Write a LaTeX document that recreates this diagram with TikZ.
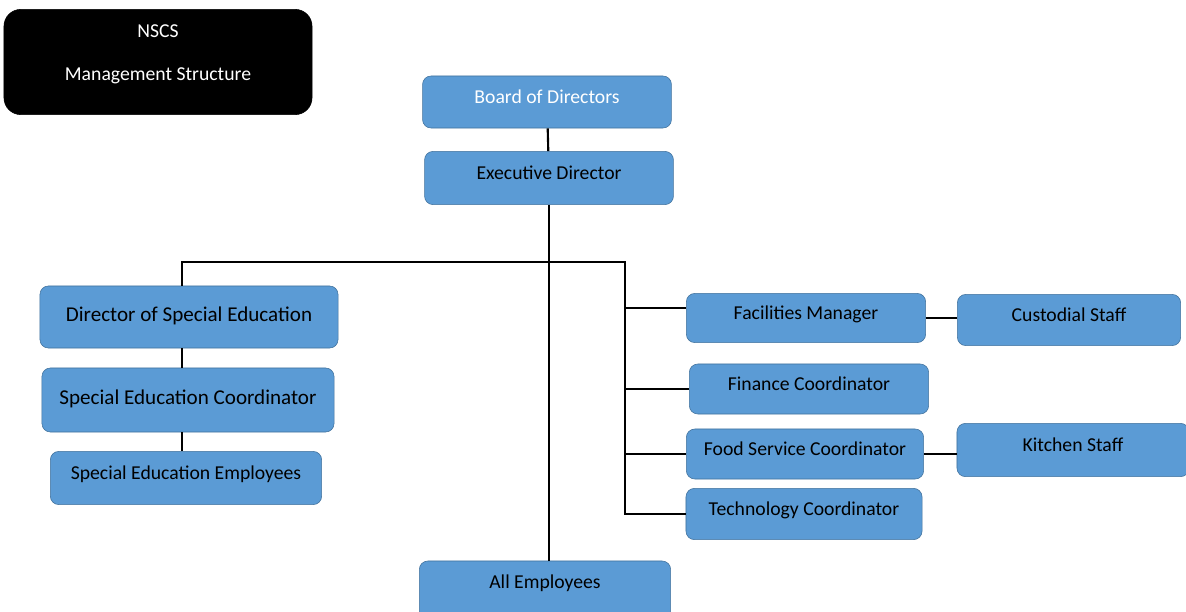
\documentclass[tikz,border=0pt]{standalone}
\usepackage{fontspec}
\setmainfont{Carlito}
\definecolor{boxblue}{HTML}{5B9BD5}
\definecolor{boxline}{HTML}{41719C}
\tikzset{every node/.style={font=\fontsize{14}{17}\selectfont}}
\tikzstyle{unit}=[draw=boxline,fill=boxblue,rounded corners=6pt,inner sep=0pt,text height=9pt,text depth=7pt]
\tikzstyle{bigunit}=[unit,font=\fontsize{15}{18}\selectfont,text height=10pt,text depth=3pt]
\tikzstyle{link}=[line width=1.5pt]

\begin{document}
\begin{tikzpicture}[x=0.025cm,y=-0.025cm]
            \useasboundingbox (0,0) rectangle (1186,612);
            \node [draw,fill=black,rounded corners=12pt,text=white,
                   minimum width=7.7cm,minimum height=2.63cm] (title) at (158,62)
                {\raisebox{2pt}[0pt][0pt]{\begin{tabular}{c}NSCS\\[13pt]Management Structure\end{tabular}}};
            % top of the chart
            \node [unit,text=white,minimum width=6.22cm,minimum height=1.3cm] (board) at (547,102) {Board of Directors};
            \node [unit,minimum width=6.22cm,minimum height=1.33cm] (exec) at (549,178) {Executive Director};
            \node [unit,minimum width=6.28cm,minimum height=1.6cm] (all) at (545,593) {\raisebox{4pt}{All Employees}};
            % special education
            \node [bigunit,minimum width=7.45cm,minimum height=1.55cm] (dse) at (189,317) {Director of Special Education};
            \node [bigunit,minimum width=7.3cm,minimum height=1.6cm] (sec) at (188,400) {Special Education Coordinator};
            \node [unit,minimum width=6.78cm,minimum height=1.33cm] (see) at (186,478) {Special Education Employees};
            % operations
            \node [unit,minimum width=5.98cm,minimum height=1.23cm] (facil) at (806,318) {Facilities Manager};
            \node [unit,minimum width=5.58cm,minimum height=1.28cm] (cust) at (1069,320) {Custodial Staff};
            \node [unit,minimum width=5.98cm,minimum height=1.25cm] (fin) at (809,389) {Finance Coordinator};
            \node [unit,minimum width=5.93cm,minimum height=1.25cm] (food) at (805,454) {Food Service Coordinator};
            \node [unit,minimum width=5.8cm,minimum height=1.33cm] (kitch) at (1073,450) {Kitchen Staff};
            \node [unit,minimum width=5.9cm,minimum height=1.28cm] (tech) at (804,514) {Technology Coordinator};

            \coordinate (lt) at (182,262);
            \coordinate (rt) at (625,262);
            \coordinate (fm) at ([yshift=7pt]facil.west);
            \draw [link] (board) -- (exec);
            \draw [link] (exec.south) -- (exec.south |- all.north);
            \draw [link] (lt |- dse.north) -- (lt) -- (rt) -- (rt |- tech.west) -- (tech.west);
            \draw [link] (lt |- dse.south) -- (lt |- sec.north);
            \draw [link] (lt |- sec.south) -- (lt |- see.north);
            \draw [link] (rt |- fm) -- (fm);
            \draw [link] (rt |- fin.west) -- (fin.west);
            \draw [link] (rt |- food.west) -- (food.west);
            \draw [link] (facil) -- (facil -| cust.west);
            \draw [link] (food) -- (food -| kitch.west);
        \end{tikzpicture}
\end{document}
